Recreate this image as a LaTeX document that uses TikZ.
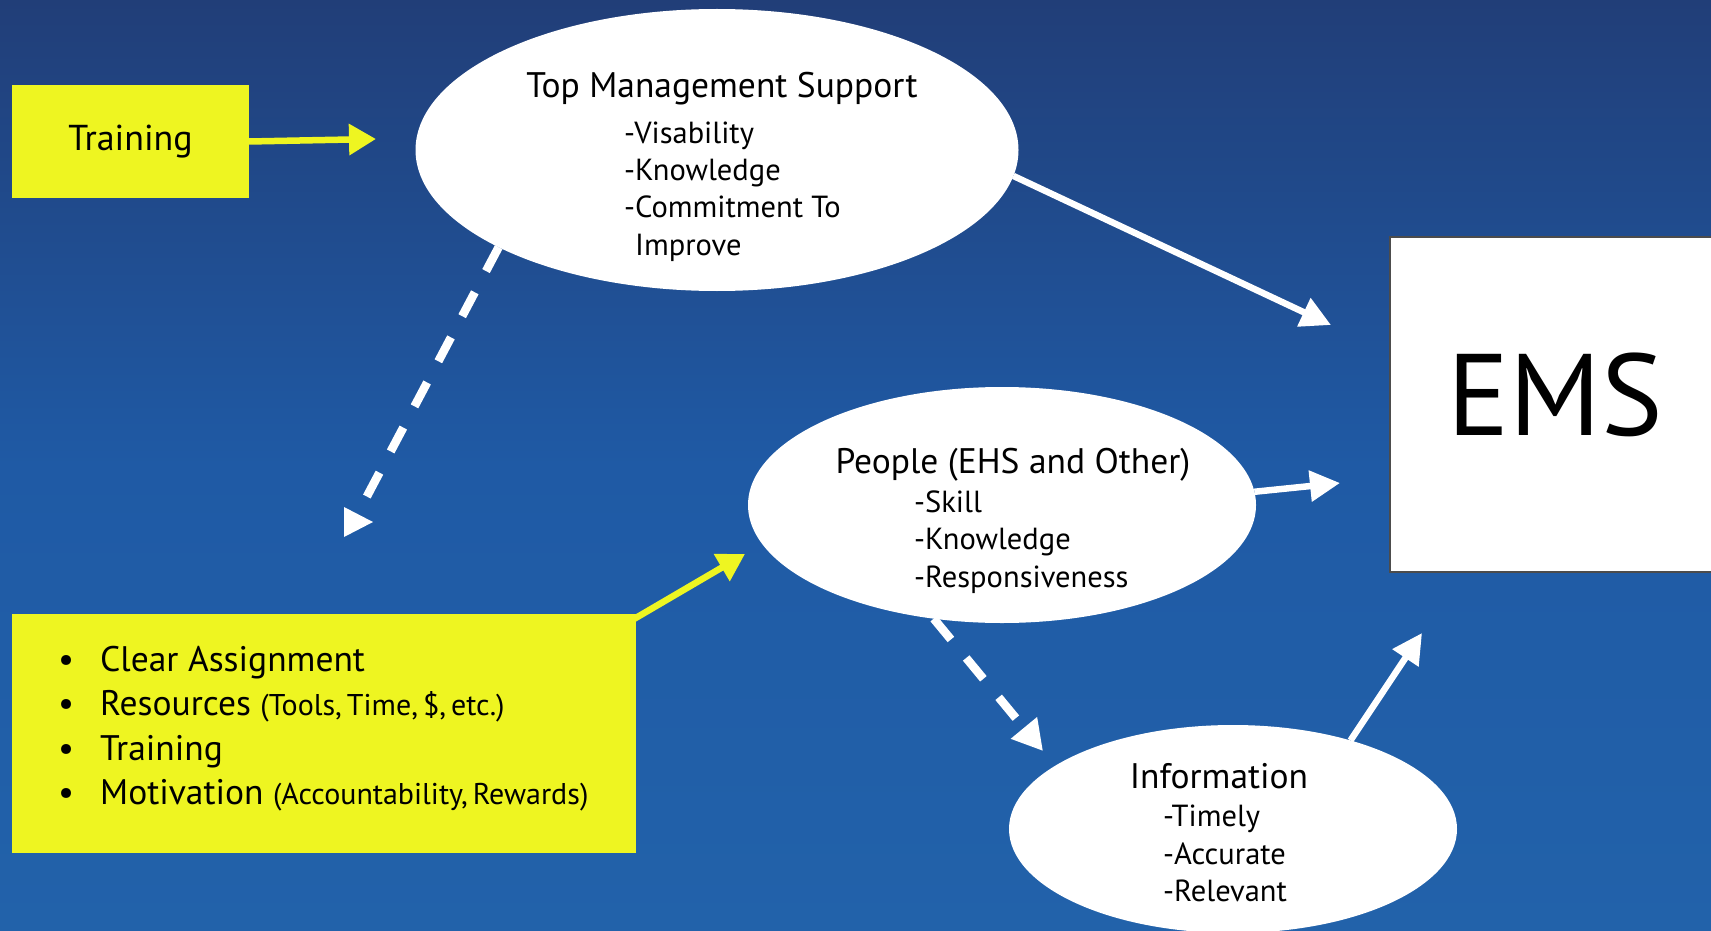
\documentclass[tikz,border=0pt]{standalone}
\usepackage{fontspec}
\setmainfont{PT Sans}
\usetikzlibrary{shapes.geometric,arrows.meta}
\definecolor{bgtop}{RGB}{33,62,120}
\definecolor{bgmid}{RGB}{31,90,165}
\definecolor{bgbot}{RGB}{34,98,170}
\definecolor{ylw}{RGB}{238,245,33}
\begin{document}
\begin{tikzpicture}[x=1pt,y=-1pt,
  bubble/.style={ellipse, fill=white, inner sep=0pt, outer sep=0pt},
  ybox/.style={fill=ylw, inner sep=0pt, outer sep=0pt, anchor=north west},
  ttl/.style={anchor=base, inner sep=0pt, font=\fontsize{35.5}{40}\selectfont},
  itm/.style={anchor=base west, inner sep=0pt, font=\fontsize{30.5}{34}\selectfont},
  litm/.style={anchor=base west, inner sep=0pt, font=\fontsize{35.5}{40}\selectfont},
  warrow/.style={white, line width=6.5pt, -{Triangle[length=30pt,width=30pt]}},
  darrow/.style={white, line width=8.5pt, dash pattern=on 27pt off 24pt},
  yarrow/.style={ylw, line width=6.5pt, -{Triangle[length=27pt,width=30pt]}}
]
\path[use as bounding box, top color=bgtop, bottom color=bgbot, middle color=bgmid] (0,0) rectangle (1711,931);

% boxes
\node[ybox, minimum width=237pt, minimum height=113pt, font=\fontsize{36}{40}\selectfont] (train) at (12,85) {Training};
\node[ybox, minimum width=624pt, minimum height=239pt] (list) at (12,614) {};
\node[draw=black!70, line width=1.5pt, fill=white, anchor=north west, inner sep=0pt,
      minimum width=360pt, minimum height=335pt] (ems) at (1389,236) {};
\node[inner sep=0pt, font=\fontsize{116}{120}\selectfont] (emst) at (1555,395) {EMS};

% ellipses
\node[bubble, minimum width=603pt, minimum height=282pt] (tms) at (717,150) {};
\node[bubble, minimum width=508pt, minimum height=236pt] (ppl) at (1002,505) {};
\node[bubble, minimum width=448pt, minimum height=208pt] (info) at (1233,829) {};

% TMS text
\node[ttl] (tmst) at (722,98) {Top Management Support};
\node[itm] (tms1) at (624,143) {-Visability};
\node[itm] (tms2) at (624,180) {-Knowledge};
\node[itm] (tms3) at (624,217) {-Commitment To};
\node[itm] (tms4) at (635,255) {Improve};

% People text
\node[ttl] (pplt) at (1013,473) {People (EHS and Other)};
\node[itm] (ppl1) at (914,512) {-Skill};
\node[itm] (ppl2) at (914,549) {-Knowledge};
\node[itm] (ppl3) at (914,587) {-Responsiveness};

% Information text
\node[ttl] (infot) at (1219,788) {Information};
\node[itm] (info1) at (1163,826) {-Timely};
\node[itm] (info2) at (1163,864) {-Accurate};
\node[itm] (info3) at (1163,901) {-Relevant};

% list text
\node[litm] (l1) at (58,671) {\makebox[42pt][l]{\textbullet}Clear Assignment};
\node[litm] (l2) at (58,715) {\makebox[42pt][l]{\textbullet}Resources {\fontsize{30}{34}\selectfont(Tools,\,Time,\,\$,\,etc.)}};
\node[litm] (l3) at (58,760) {\makebox[42pt][l]{\textbullet}Training};
\node[litm] (l4) at (58,804) {\makebox[42pt][l]{\textbullet}Motivation {\fontsize{30}{34}\selectfont(Accountability,\,Rewards)}};

% connectors
\coordinate (trainend) at (376,139);
\draw[yarrow] (train.east) -- (trainend);
\coordinate (listend) at (745,554);
\draw[yarrow] ([shift={(-2,5)}]list.north east) -- (listend);

\coordinate (e1) at (1331,325);
\draw[warrow] (tms.-5) -- (e1);
\coordinate (e2) at (1340,483);
\draw[warrow] (ppl.3) -- (e2);
\coordinate (e3) at (1422,633);
\draw[warrow] (info.37) -- (e3);

\coordinate (d1) at (365,500);
\draw[darrow] (tms.204) -- (d1);
\fill[white] (344,507) -- (373,522) -- (344,537) -- cycle;

\coordinate (d2) at (1043,751);
\draw[darrow, -{Triangle[length=30pt,width=32pt]}] (ppl.-121) -- (d2);
\end{tikzpicture}
\end{document}
